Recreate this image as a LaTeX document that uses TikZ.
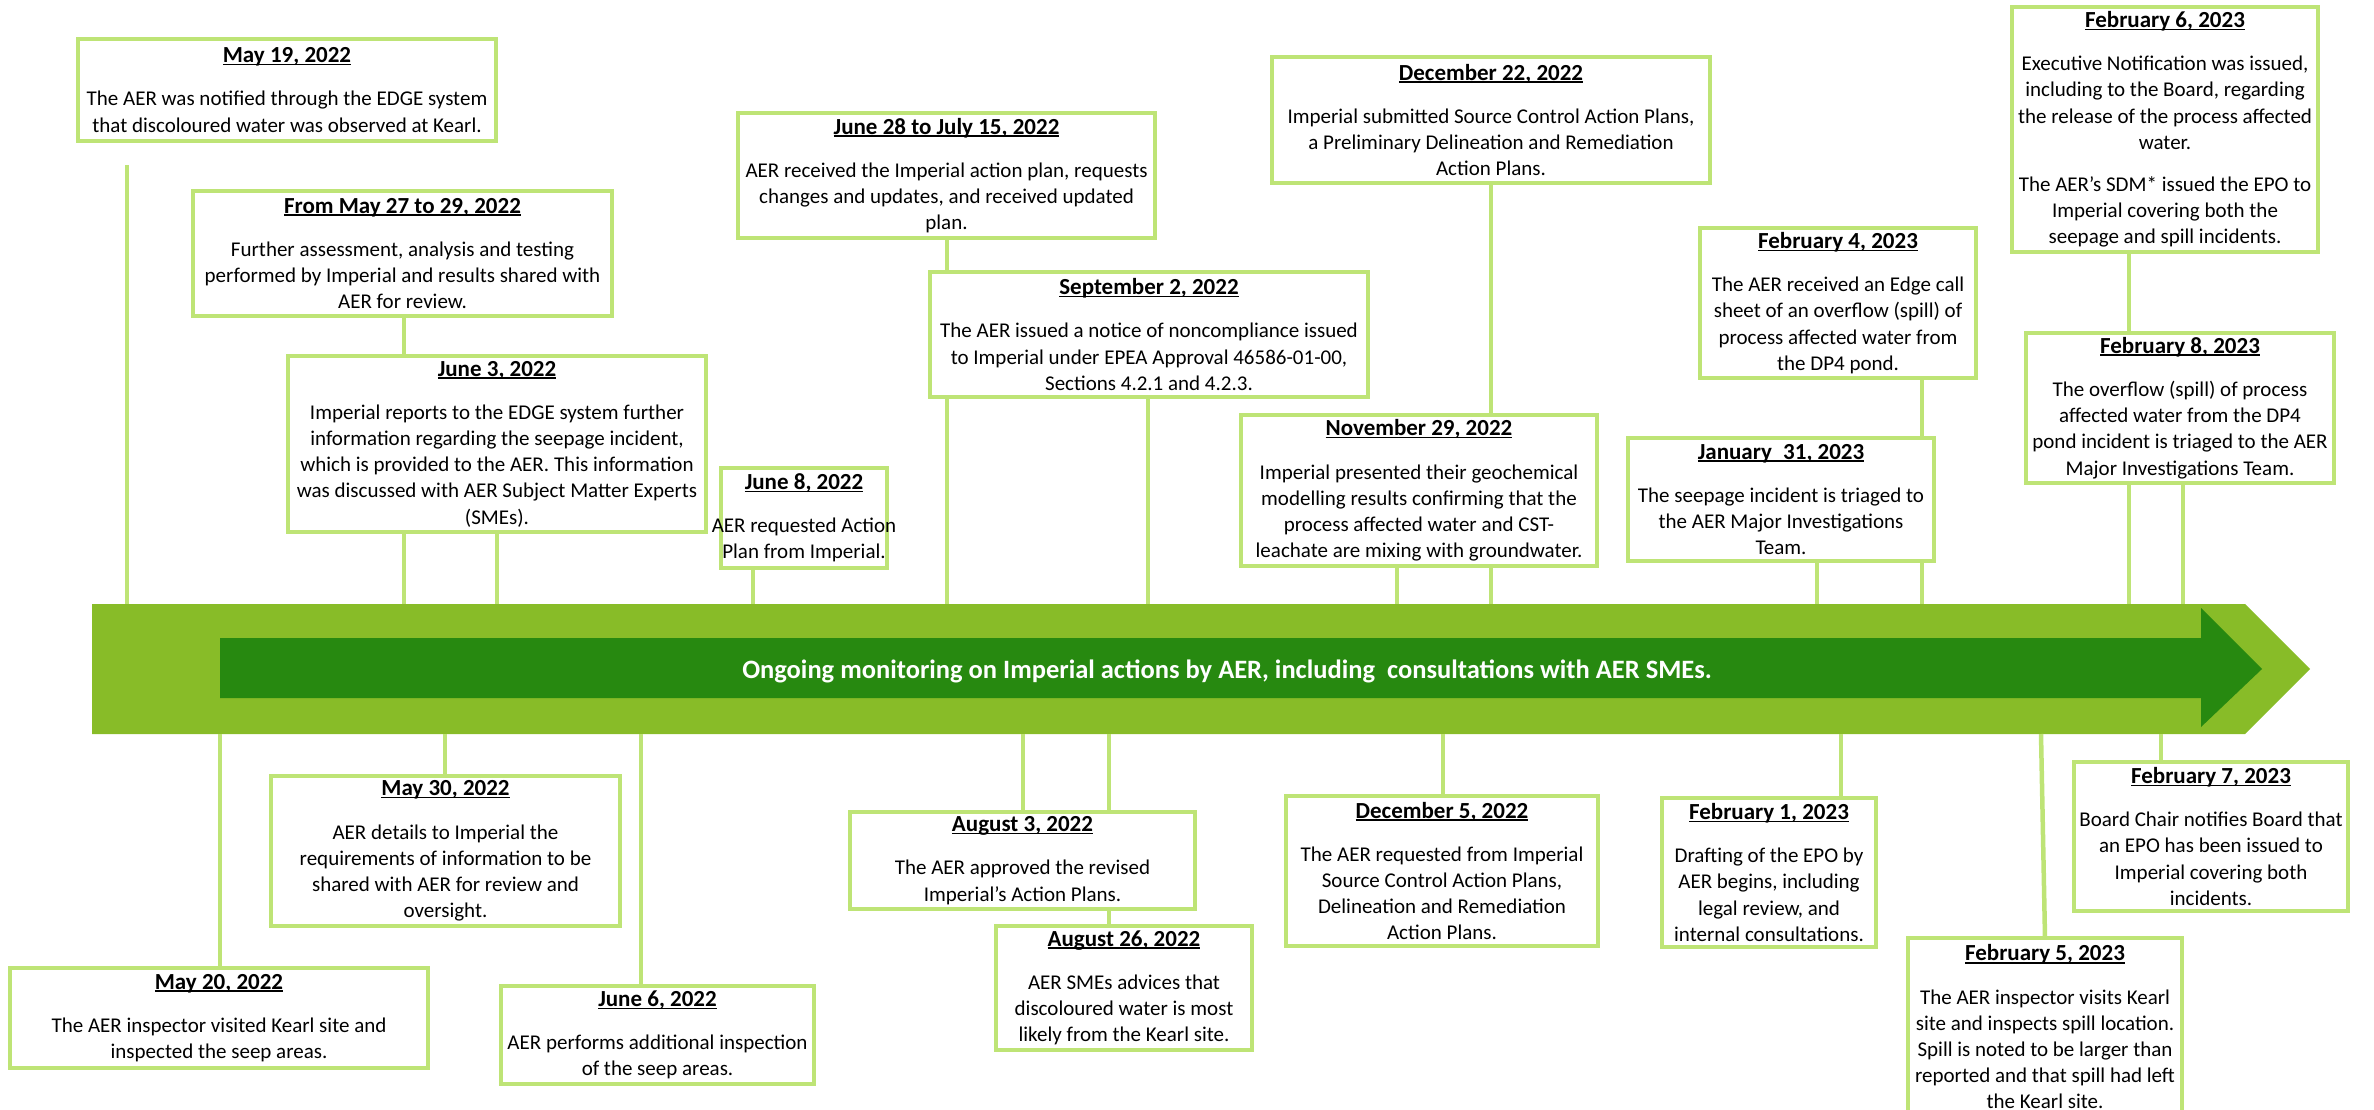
\documentclass[tikz,border=0pt]{standalone}
\usepackage{fontspec}
\setmainfont{Carlito}
\definecolor{boxg}{RGB}{190,228,118}
\definecolor{lightg}{RGB}{136,188,40}
\definecolor{darkg}{RGB}{39,137,16}
\newcommand\dt[1]{{\fontsize{23}{26}\selectfont\bfseries\setbox0=\hbox{#1}\rlap{\rule[-2.6pt]{\wd0}{1.5pt}}\box0}}
\newcommand\evbox[6]{%
  \node[evb, minimum width={#4-#2}, minimum height={#5-#3}] (#1) at ({(#2+#4)/2},{(#3+#5)/2}) {};
  \node[txt] (#1t) at (#1.center) {#6};}
\tikzset{
  evb/.style={draw=boxg, line width=4.5pt, inner sep=0pt, outer sep=0pt, rectangle},
  txt/.style={align=center, inner sep=0pt, font=\fontsize{21}{26.2}\selectfont, text=black},
  conn/.style={draw=boxg, line width=4.5pt},
  banner/.style={inner sep=0pt, text=white, font=\fontsize{26.5}{30}\selectfont\bfseries}
}
\begin{document}
\begin{tikzpicture}[x=1pt,y=-1pt]
\useasboundingbox (0,0) rectangle (2374,1110);
\clip (0,0) rectangle (2374,1110);
% timeline arrow
\fill[lightg] (92,604) -- (2245,604) -- (2310,669) -- (2245,734) -- (92,734) -- cycle;
\fill[darkg] (220,638) -- (2201,638) -- (2201,608) -- (2262,669) -- (2201,727) -- (2201,698) -- (220,698) -- cycle;
\node[banner] (mon) at (1227,671) {Ongoing monitoring on Imperial actions by AER, including\hspace{6pt} consultations with AER SMEs.};
% top boxes
\evbox{may19}{78}{39}{496}{141}{\dt{May 19, 2022}\\[17pt]The AER was notified through the EDGE system\\that discoloured water was observed at Kearl.}
\evbox{may27}{193}{191}{612}{316}{\dt{From May 27 to 29, 2022}\\[17pt]Further assessment, analysis and testing\\performed by Imperial and results shared with\\AER for review.}
\evbox{jun3}{288}{356}{706}{532}{\dt{June 3, 2022}\\[17pt]Imperial reports to the EDGE system further\\information regarding the seepage incident,\\which is provided to the AER. This information\\was discussed with AER Subject Matter Experts\\(SMEs).}
\evbox{jun8}{721}{468}{887}{568}{\dt{June 8, 2022}\\[17pt]AER requested Action\\Plan from Imperial.}
\evbox{jun28}{738}{113}{1155}{238}{\dt{June 28 to July 15, 2022}\\[17pt]AER received the Imperial action plan, requests\\changes and updates, and received updated\\plan.}
\evbox{sep2}{930}{272}{1368}{397}{\dt{September 2, 2022}\\[17pt]The AER issued a notice of noncompliance issued\\to Imperial under EPEA Approval 46586-01-00,\\Sections 4.2.1 and 4.2.3.}
\evbox{dec22}{1272}{57}{1710}{183}{\dt{December 22, 2022}\\[17pt]Imperial submitted Source Control Action Plans,\\a Preliminary Delineation and Remediation\\Action Plans.}
\evbox{nov29}{1241}{415}{1597}{566}{\dt{November 29, 2022}\\[17pt]Imperial presented their geochemical\\modelling results confirming that the\\process affected water and CST-\\leachate are mixing with groundwater.}
\evbox{feb4}{1700}{228}{1976}{378}{\dt{February 4, 2023}\\[17pt]The AER received an Edge call\\sheet of an overflow (spill) of\\process affected water from\\the DP4 pond.}
\evbox{jan31}{1628}{438}{1934}{561}{\dt{January\hspace{6pt} 31, 2023}\\[17pt]The seepage incident is triaged to\\the AER Major Investigations\\Team.}
\evbox{feb6}{2012}{7}{2318}{252}{\dt{February 6, 2023}\\[17pt]Executive Notification was issued,\\including to the Board, regarding\\the release of the process affected\\water.\\[16pt]The AER’s SDM* issued the EPO to\\Imperial covering both the\\seepage and spill incidents.}
\evbox{feb8}{2026}{333}{2334}{483}{\dt{February 8, 2023}\\[17pt]The overflow (spill) of process\\affected water from the DP4\\pond incident is triaged to the AER\\Major Investigations Team.}
% bottom boxes
\evbox{may20}{10}{968}{428}{1068}{\dt{May 20, 2022}\\[17pt]The AER inspector visited Kearl site and\\inspected the seep areas.}
\evbox{may30}{271}{776}{620}{926}{\dt{May 30, 2022}\\[17pt]AER details to Imperial the\\requirements of information to be\\shared with AER for review and\\oversight.}
\evbox{jun6}{501}{986}{814}{1084}{\dt{June 6, 2022}\\[17pt]AER performs additional inspection\\of the seep areas.}
\evbox{aug3}{850}{812}{1195}{909}{\dt{August 3, 2022}\\[17pt]The AER approved the revised\\Imperial’s Action Plans.}
\evbox{aug26}{996}{926}{1252}{1050}{\dt{August 26, 2022}\\[17pt]AER SMEs advices that\\discoloured water is most\\likely from the Kearl site.}
\evbox{dec5}{1286}{796}{1598}{946}{\dt{December 5, 2022}\\[17pt]The AER requested from Imperial\\Source Control Action Plans,\\Delineation and Remediation\\Action Plans.}
\evbox{feb1}{1662}{798}{1876}{947}{\dt{February 1, 2023}\\[17pt]Drafting of the EPO by\\AER begins, including\\legal review, and\\internal consultations.}
\evbox{feb5}{1908}{938}{2182}{1116}{\dt{February 5, 2023}\\[17pt]The AER inspector visits Kearl\\site and inspects spill location.\\Spill is noted to be larger than\\reported and that spill had left\\the Kearl site.}
\evbox{feb7}{2074}{762}{2348}{911}{\dt{February 7, 2023}\\[17pt]Board Chair notifies Board that\\an EPO has been issued to\\Imperial covering both\\incidents.}
% anchor points on the arrow
\coordinate (s127) at (127,165);
\coordinate (T127) at (127,604);
\coordinate (T404) at (404,604);
\coordinate (T497) at (497,604);
\coordinate (T753) at (753,604);
\coordinate (T947) at (947,604);
\coordinate (T1148) at (1148,604);
\coordinate (T1397) at (1397,604);
\coordinate (T1491) at (1491,604);
\coordinate (T1817) at (1817,604);
\coordinate (T1922) at (1922,604);
\coordinate (T2129) at (2129,604);
\coordinate (T2183) at (2183,604);
\coordinate (B220) at (220,734);
\coordinate (B445) at (445,734);
\coordinate (B641) at (641,734);
\coordinate (B1023) at (1023,734);
\coordinate (B1109) at (1109,734);
\coordinate (B1443) at (1443,734);
\coordinate (B1841) at (1841,734);
\coordinate (B2041) at (2041,734);
\coordinate (B2161) at (2161,734);
% connectors
\draw[conn] (s127) -- (T127);
\draw[conn] (may27.south -| T404) -- (jun3.north -| T404);
\draw[conn] (jun3.south -| T404) -- (T404);
\draw[conn] (jun3.south -| T497) -- (T497);
\draw[conn] (jun8.south -| T753) -- (T753);
\draw[conn] (jun28.south -| T947) -- (sep2.north -| T947);
\draw[conn] (sep2.south -| T947) -- (T947);
\draw[conn] (sep2.south -| T1148) -- (T1148);
\draw[conn] (dec22.south -| T1491) -- (nov29.north -| T1491);
\draw[conn] (nov29.south -| T1491) -- (T1491);
\draw[conn] (nov29.south -| T1397) -- (T1397);
\draw[conn] (feb4.south -| T1922) -- (jan31.north -| T1922);
\draw[conn] (jan31.south -| T1922) -- (T1922);
\draw[conn] (jan31.south -| T1817) -- (T1817);
\draw[conn] (feb6.south -| T2129) -- (feb8.north -| T2129);
\draw[conn] (feb8.south -| T2129) -- (T2129);
\draw[conn] (feb8.south -| T2183) -- (T2183);
\draw[conn] (B220) -- (may20.north -| B220);
\draw[conn] (B445) -- (may30.north -| B445);
\draw[conn] (B641) -- (jun6.north -| B641);
\draw[conn] (B1023) -- (aug3.north -| B1023);
\draw[conn] (B1109) -- (aug3.north -| B1109);
\draw[conn] (aug3.south -| B1109) -- (aug26.north -| B1109);
\draw[conn] (B1443) -- (dec5.north -| B1443);
\draw[conn] (B1841) -- (feb1.north -| B1841);
\draw[conn] (B2041) -- (feb5.north);
\draw[conn] (B2161) -- (feb7.north -| B2161);
\end{tikzpicture}
\end{document}
